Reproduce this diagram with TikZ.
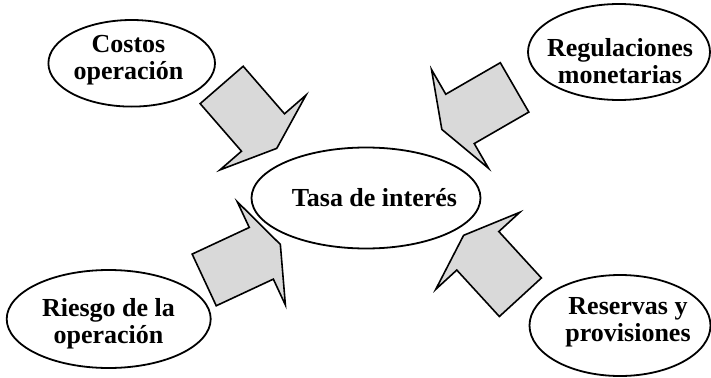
\documentclass[tikz,border=0pt]{standalone}
\usepackage{fontspec}
\setmainfont{Liberation Serif}
\usetikzlibrary{shapes.geometric}

\tikzset{
	borde/.style={draw=black,line width=1.8pt},
	texto/.style={inner sep=0pt,align=center,font=\fontsize{26}{27}\selectfont\bfseries},
	flecha/.style={draw=black,fill=black!15,line width=1.6pt,line join=miter}
}

\begin{document}
\begin{tikzpicture}[x=1pt,y=-1pt]
			\useasboundingbox (0,0) rectangle (711,377);
			
			% elipses
			
			\draw[borde] (366,198) ellipse [x radius=114.5, y radius=50.5];
			\draw[borde] (131.7,63.3) ellipse [x radius=83.3, y radius=43.3];
			\draw[borde] (619,52) ellipse [x radius=91, y radius=48];
			\draw[borde] (108.7,319) ellipse [x radius=102, y radius=49];
			\draw[borde] (620,325.5) ellipse [x radius=90.5, y radius=50.5];
			
			\node[texto] (tasa) at (374.5,197.5) {Tasa de interés};
			\node[texto] (costos) at (128.5,59.7) {Costos\\operación};
			\node[texto] (regulaciones) at (620,60.7) {Regulaciones\\monetarias};
			\node[texto] (riesgo) at (108.5,324.2) {Riesgo de la\\operación};
			\node[texto] (reservas) at (628,322.5) {Reservas y\\provisiones};
			
			% flechas
			
			\foreach \px/\py/\ang in {263/132.5/-49, 460/118.9/-150, 261.3/253.3/25, 477.8/250.8/132.5} {
				\draw[flecha,shift={(\px,\py)},rotate=\ang] (-63,-28.5) -- (0,-28.5) -- (0,-57) -- (21,0) -- (0,57) -- (0,28.5) -- (-63,28.5) -- cycle;
			}
			
		\end{tikzpicture}
\end{document}
